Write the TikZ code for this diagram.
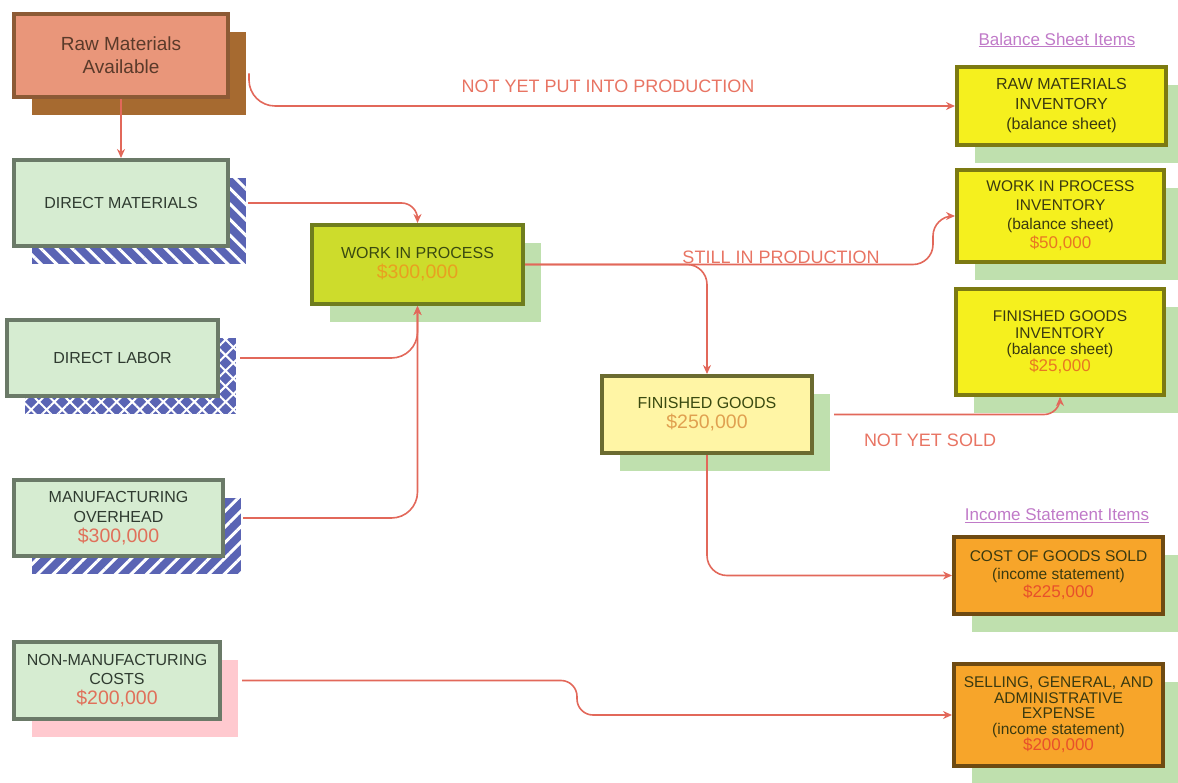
\documentclass[tikz,border=0pt]{standalone}
\usepackage{fontspec}
\setmainfont{Liberation Sans}
\usetikzlibrary{arrows.meta,calc,shadows,patterns.meta}
\definecolor{flowred}{HTML}{E2685A}
\definecolor{labelred}{HTML}{E87463}
\definecolor{headpink}{HTML}{C07AC8}
\definecolor{palegreen}{HTML}{D6ECD1}
\definecolor{greyline}{HTML}{6B7A68}
\definecolor{darktext}{HTML}{2F3B30}
\definecolor{sumred}{HTML}{E0705A}
\definecolor{rawfill}{HTML}{E9967A}
\definecolor{rawline}{HTML}{8C5A35}
\definecolor{rawshade}{HTML}{A66A30}
\definecolor{rawtext}{HTML}{5A3A2A}
\definecolor{hatchblue}{HTML}{5A64B4}
\definecolor{pinkshade}{HTML}{FFC9CF}
\definecolor{greenshade}{HTML}{BFE0AE}
\definecolor{wipfill}{HTML}{CDDC2C}
\definecolor{wipline}{HTML}{6F7D1E}
\definecolor{wiptext}{HTML}{3A4A10}
\definecolor{wipsum}{HTML}{E8A020}
\definecolor{fgfill}{HTML}{FFF5A5}
\definecolor{fgline}{HTML}{6B6B30}
\definecolor{fgsum}{HTML}{E0A050}
\definecolor{itemyellow}{HTML}{F5F01E}
\definecolor{itemline}{HTML}{7C7A12}
\definecolor{itemtext}{HTML}{3A3A10}
\definecolor{itemsum}{HTML}{E87822}
\definecolor{itemorange}{HTML}{F7A52A}
\definecolor{orangeline}{HTML}{6E4A12}
\definecolor{expsum}{HTML}{E8502A}
\newcommand\money[2]{{\color{#1}\fontsize{19.5}{20}\selectfont #2}}
\newcommand\smallmoney[2]{{\color{#1}\fontsize{17}{18}\selectfont #2}}
\tikzset{
cost/.style={draw=greyline,fill=palegreen,line width=4pt,align=center,text=darktext,font=\fontsize{16}{20}\selectfont,inner sep=2pt},
pool/.style={cost,draw=wipline,fill=wipfill,text=wiptext,backdrop=greenshade},
item/.style={cost,draw=itemline,fill=itemyellow,text=itemtext,backdrop=greenshade},
expense/.style={cost,draw=orangeline,fill=itemorange,text=itemtext,backdrop=greenshade},
backdrop/.style={general shadow={shadow xshift=18pt,shadow yshift=-18pt,fill=#1}},
hatched/.style={backdrop=hatchblue,general shadow={shadow xshift=18pt,shadow yshift=-18pt,pattern={#1},pattern color=white}},
flow/.style={-{Stealth[length=9pt,width=8pt]},line width=1.6pt,draw=flowred,rounded corners=16pt},
flow label/.style={font=\fontsize{18}{20}\selectfont,text=labelred},
heading/.style={font=\fontsize{17}{20}\selectfont,text=headpink}}
\begin{document}
\begin{tikzpicture}[x=1pt,y=-1pt]
\useasboundingbox (0,0) rectangle (1178,783);
\clip (0,0) rectangle (1178,783);
\node[cost,draw=rawline,fill=rawfill,text=rawtext,backdrop=rawshade,minimum width=214pt,minimum height=83pt,font=\fontsize{19}{23}\selectfont] (raw) at (121,55.5) {Raw Materials\\Available};
\node[cost,hatched={Lines[angle=-45,distance=11pt,line width=3pt]},minimum width=214pt,minimum height=86pt] (dm) at (121,203) {DIRECT MATERIALS};
\node[cost,hatched={Hatch[angle=45,distance=11pt,line width=2pt]},minimum width=211pt,minimum height=76pt] (dl) at (112.5,358) {DIRECT LABOR};
\node[cost,hatched={Lines[angle=45,distance=11pt,line width=3pt]},minimum width=209pt,minimum height=76pt] (moh) at (118.5,518) {MANUFACTURING\\OVERHEAD\\\money{sumred}{\$300,000}};
\node[cost,backdrop=pinkshade,minimum width=206pt,minimum height=77pt,font=\fontsize{16}{19.5}\selectfont] (nmc) at (117,680.5) {NON-MANUFACTURING\\COSTS\\\money{sumred}{\$200,000}};
\node[pool,minimum width=211pt,minimum height=79pt] (wip) at (417.5,264.5) {WORK IN PROCESS\\\money{wipsum}{\$300,000}};
\node[pool,fill=fgfill,draw=fgline,minimum width=210pt,minimum height=77pt] (fg) at (707,414.5) {FINISHED GOODS\\\money{fgsum}{\$250,000}};
\node[heading] (bsi) at (1057,40) {\underline{Balance Sheet Items}};
\node[item,minimum width=209pt,minimum height=78pt] (rmi) at (1061.5,106) {RAW MATERIALS\\INVENTORY\\(balance sheet)};
\node[item,minimum width=207pt,minimum height=92pt,font=\fontsize{15.5}{19}\selectfont] (wipi) at (1060.5,216) {WORK IN PROCESS\\INVENTORY\\(balance sheet)\\\smallmoney{itemsum}{\$50,000}};
\node[item,minimum width=208pt,minimum height=106pt,font=\fontsize{15.5}{16.5}\selectfont] (fgi) at (1060,342) {FINISHED GOODS\\INVENTORY\\(balance sheet)\\\smallmoney{itemsum}{\$25,000}};
\node[heading] (isi) at (1057,516) {\underline{Income Statement Items}};
\node[expense,minimum width=209pt,minimum height=77pt,font=\fontsize{15.5}{18}\selectfont] (cogs) at (1058.5,575.5) {COST OF GOODS SOLD\\(income statement)\\\smallmoney{expsum}{\$225,000}};
\node[expense,minimum width=209pt,minimum height=102pt,font=\fontsize{15.5}{15.5}\selectfont] (sga) at (1058.5,715) {SELLING, GENERAL, AND\\ADMINISTRATIVE\\EXPENSE\\(income statement)\\\smallmoney{expsum}{\$200,000}};
\draw[flow,rounded corners=26pt] ([xshift=19pt,yshift=-18pt]raw.east) |- (rmi.west);
\draw[flow] (raw.south) -- (dm.north);
\draw[flow] ([xshift=18pt]dm.east) -| (wip.north);
\draw[flow,rounded corners=26pt] ([xshift=20pt]dl.east) -| (wip.south);
\draw[flow,rounded corners=26pt] ([xshift=18pt]moh.east) -| (wip.south);
\draw[flow,rounded corners=20pt] (wip.east) -| ([xshift=-22pt]wipi.west) -- (wipi.west);
\draw[flow,rounded corners=20pt] (wip.east) -| (fg.north);
\draw[flow] ([xshift=20pt]fg.east) -| (fgi.south);
\draw[flow,rounded corners=20pt] (fg.south) |- (cogs.west);
\draw[flow,rounded corners=16pt] ([xshift=20pt]nmc.east) -| ([xshift=-375pt]sga.west) -- (sga.west);
\node[flow label] (notput) at (608,86) {NOT YET PUT INTO PRODUCTION};
\node[flow label] (still) at (781,257) {STILL IN PRODUCTION};
\node[flow label] (notsold) at (930,440) {NOT YET SOLD};
\end{tikzpicture}
\end{document}
